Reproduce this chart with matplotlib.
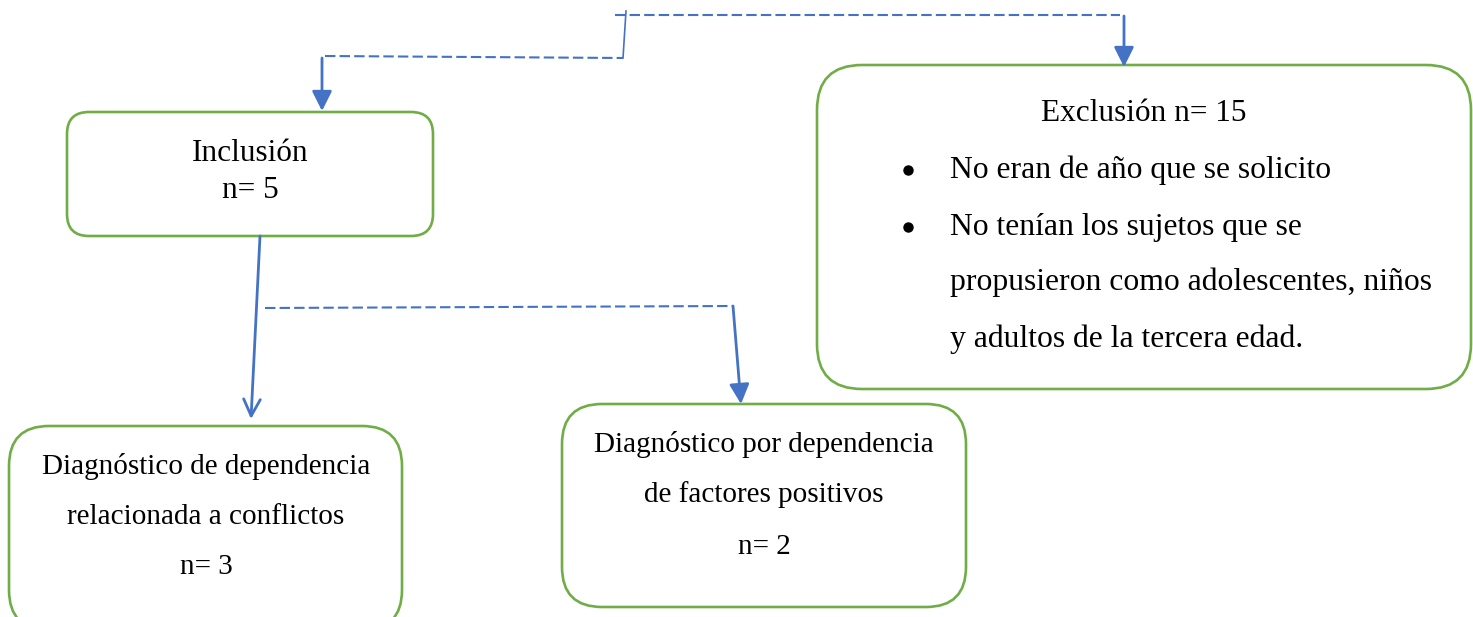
import matplotlib.pyplot as plt
from matplotlib.patches import FancyBboxPatch

# texts of the flow diagram
inclusion_lines = ["Inclusión", "n= 5"]
exclusion_title = "Exclusión n= 15"
exclusion_bullets = [
    ["No eran de año que se solicito"],
    ["No tenían los sujetos que se",
     "propusieron como adolescentes, niños",
     "y adultos de la tercera edad."],
]
conflict_lines = ["Diagnóstico de dependencia", "relacionada a conflictos", "n= 3"]
positive_lines = ["Diagnóstico por dependencia", "de factores positivos", "n= 2"]

GREEN = "#70AD47"
BLUE = "#4472C4"
W, H = 1473, 617

plt.rcParams['font.family'] = ['Liberation Serif', 'DejaVu Serif']

fig = plt.figure(figsize=(W / 100, H / 100), dpi=100)
ax = fig.add_axes([0, 0, 1, 1])
ax.set_xlim(0, W)
ax.set_ylim(H, 0)
ax.axis('off')


def box(x0, y0, x1, y1, r):
    p = FancyBboxPatch((x0, y0), x1 - x0, y1 - y0,
                       boxstyle=f"round,pad=0,rounding_size={r}",
                       fc='white', ec=GREEN, lw=1.9, zorder=2)
    ax.add_patch(p)


def dashed(xs, ys):
    ax.plot(xs, ys, color=BLUE, lw=1.5, dashes=(5, 2), zorder=1)


def arrow(x0, y0, x1, y1, style='-|>'):
    ax.annotate("", xy=(x1, y1), xytext=(x0, y0),
                arrowprops=dict(arrowstyle=f"{style},head_length=0.6,head_width=0.3",
                                color=BLUE, lw=2.0, mutation_scale=20,
                                shrinkA=0, shrinkB=0), zorder=3)


# boxes
box(67, 112, 433, 236, 22)
box(817, 65, 1471, 389, 45)
box(9, 426, 402, 630, 40)
box(562, 404, 966, 607, 40)

# top connectors
ax.plot([626, 623], [11, 58], color=BLUE, lw=1.2, zorder=1)
dashed([615, 1120], [15, 15])
dashed([325, 623], [56, 58])
arrow(1124, 16, 1124, 67)
arrow(322, 58, 322, 111)

# lower connectors
arrow(260, 236, 251, 419, style='->')
dashed([265, 733], [308, 306])
arrow(733, 306, 741, 404)

# box texts
for txt, yb in zip(inclusion_lines, [161, 198]):
    ax.text(250, yb, txt, ha='center', va='baseline', fontsize=22.5, zorder=4)

ax.text(1144, 121, exclusion_title, ha='center', va='baseline', fontsize=22.5, zorder=4)
bullet_y = [[178], [235, 290, 347]]
for lines, ys in zip(exclusion_bullets, bullet_y):
    ax.plot([908], [ys[0] - 8], marker='o', ms=6.5, color='black', zorder=4)
    for txt, yb in zip(lines, ys):
        ax.text(950, yb, txt, ha='left', va='baseline', fontsize=22.8, zorder=4)

for txt, yb in zip(conflict_lines, [474, 524, 574]):
    ax.text(206, yb, txt, ha='center', va='baseline', fontsize=21, zorder=4)

for txt, yb in zip(positive_lines, [452, 502, 554]):
    ax.text(764, yb, txt, ha='center', va='baseline', fontsize=21, zorder=4)

fig.savefig("out.png", dpi=100, facecolor='white')
